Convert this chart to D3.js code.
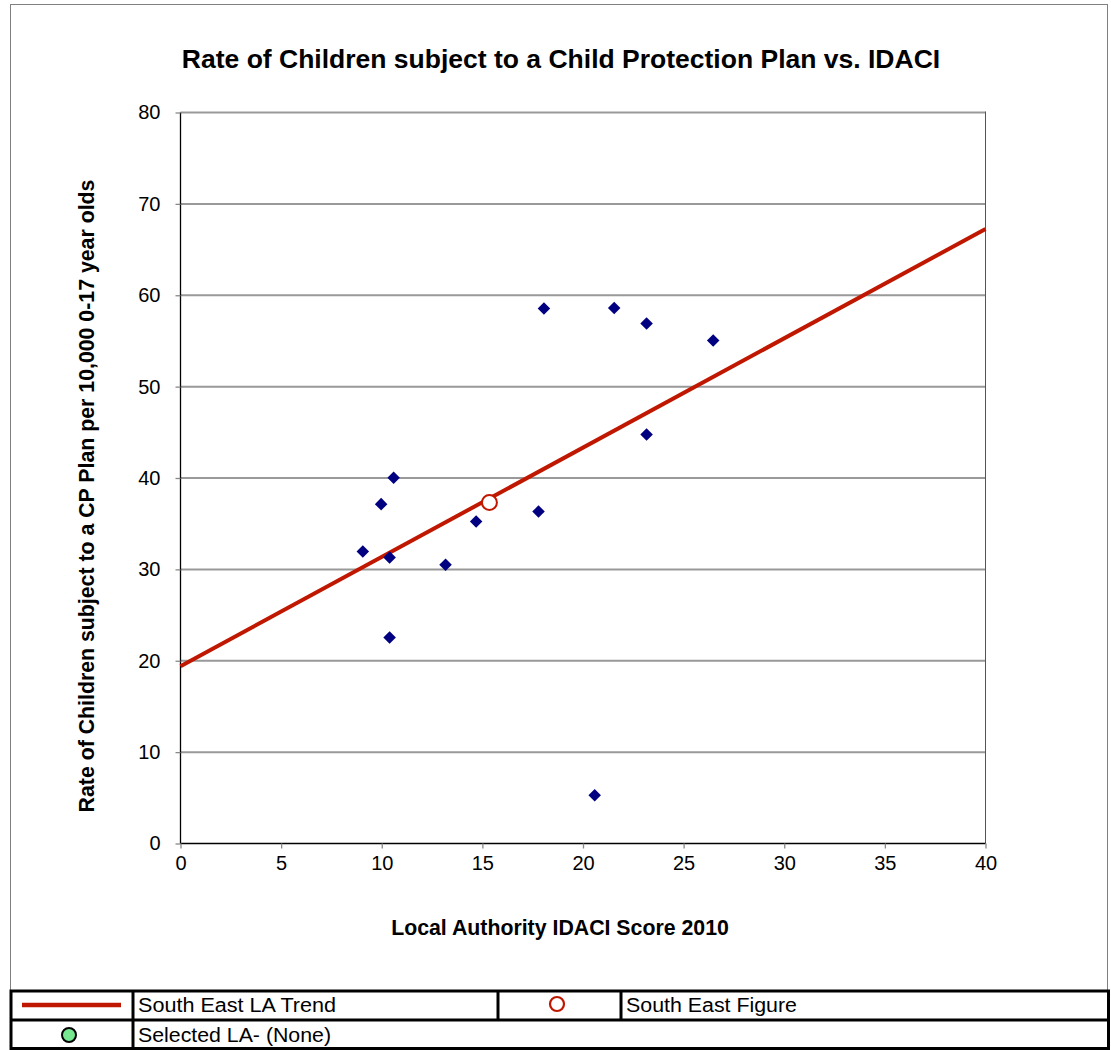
<!DOCTYPE html>
<html>
<head>
<meta charset="utf-8">
<script src="https://cdn.jsdelivr.net/npm/d3@7"></script>
<style>
  body { margin: 0; background: #fff; }
  svg { display: block; font-family: "Liberation Sans", Arial, sans-serif; }
</style>
</head>
<body>
<svg id="chart" width="1111" height="1050"></svg>
<script>
// ---- Data ----
const laIdaci = [18.06, 21.55, 23.16, 26.47, 23.16, 10.59, 9.97, 9.06, 10.39, 13.17, 14.69, 17.79, 10.39, 20.58];
const laRate  = [58.55, 58.6, 56.9, 55.05, 44.76, 40.02, 37.14, 31.96, 31.3, 30.5, 35.24, 36.33, 22.54, 5.29];
const seFigure = [15.35, 37.32];          // [IDACI, rate]
const trendX = [0, 40];
const trendY = [19.4, 67.25];
const xTicks = [0, 5, 10, 15, 20, 25, 30, 35, 40];
const yTicks = [0, 10, 20, 30, 40, 50, 60, 70, 80];
const titleText = "Rate of Children subject to a Child Protection Plan vs. IDACI";
const xTitle = "Local Authority IDACI Score 2010";
const yTitle = "Rate of Children subject to a CP Plan per 10,000 0-17 year olds";
const legendLabels = ["South East LA Trend", "South East Figure", "Selected LA- (None)"];

// ---- Layout ----
const svg = d3.select("#chart");
const L = 180.5, R = 985.5, T = 112.5, B = 843.5;
const x = d3.scaleLinear().domain([0, 40]).range([L, R]);
const y = d3.scaleLinear().domain([0, 80]).range([B, T]);

// outer frame
svg.append("rect").attr("x", 10.5).attr("y", 4.5).attr("width", 1097).attr("height", 987)
  .attr("fill", "#fff").attr("stroke", "#808080").attr("stroke-width", 1);

// title
svg.append("text").attr("x", 561).attr("y", 68).attr("text-anchor", "middle")
  .attr("font-size", 26.5).attr("font-weight", "bold").text(titleText);

// gridlines
svg.append("g").selectAll("line").data(yTicks.filter(d => d > 0)).join("line")
  .attr("x1", L).attr("x2", R).attr("y1", d => y(d)).attr("y2", d => y(d))
  .attr("stroke", "#999").attr("stroke-width", 2);

// right border of plot area
svg.append("line").attr("x1", R).attr("x2", R).attr("y1", T - 1).attr("y2", B)
  .attr("stroke", "#555").attr("stroke-width", 1);

// axes
const xAxis = d3.axisBottom(x).tickValues(xTicks).tickSize(5).tickPadding(7).tickFormat(d3.format("d"));
const yAxis = d3.axisLeft(y).tickValues(yTicks).tickSize(5).tickPadding(15).tickFormat(d3.format("d"));
const gx = svg.append("g").attr("transform", `translate(0,${B})`).call(xAxis);
const gy = svg.append("g").attr("transform", `translate(${L},0)`).call(yAxis);
[gx, gy].forEach(g => {
  g.select(".domain").attr("stroke", "#000").attr("stroke-width", 1.3);
  g.selectAll(".tick line").attr("stroke", "#888").attr("stroke-width", 1.3);
  g.selectAll(".tick text").attr("font-size", 20).attr("fill", "#000")
    .attr("font-family", "'Liberation Sans', Arial, sans-serif");
});
gx.select(".domain").attr("d", `M${L},0H${R}`);
gy.select(".domain").attr("d", `M0,${T}V${B}`);

// axis titles
svg.append("text").attr("x", 560).attr("y", 935).attr("text-anchor", "middle")
  .attr("font-size", 21.3).attr("font-weight", "bold").text(xTitle);
svg.append("text").attr("transform", `translate(94,496) rotate(-90)`)
  .attr("text-anchor", "middle").attr("font-size", 21.3).attr("font-weight", "bold").text(yTitle);

// trend line
const trendData = trendX.map((d, i) => [d, trendY[i]]);
svg.append("path").datum(trendData)
  .attr("d", d3.line().x(d => x(d[0])).y(d => y(d[1])))
  .attr("stroke", "#C01800").attr("stroke-width", 4).attr("fill", "none");

// LA points
const pts = laIdaci.map((d, i) => [d, laRate[i]]);
const diamond = d3.symbol().type(d3.symbolDiamond2).size(100);
svg.append("g").selectAll("path").data(pts).join("path")
  .attr("transform", d => `translate(${x(d[0])},${y(d[1])})`)
  .attr("d", diamond).attr("fill", "#000080");

// SE figure
svg.append("circle").attr("cx", x(seFigure[0])).attr("cy", y(seFigure[1])).attr("r", 7.5)
  .attr("fill", "#fff").attr("stroke", "#C01800").attr("stroke-width", 2);

// ---- Legend table ----
const lg = svg.append("g");
const lTop = 991, lMid = 1020, lBot = 1048.5, lLft = 11, lRgt = 1108.5;
lg.append("rect").attr("x", lLft).attr("y", lTop).attr("width", lRgt - lLft).attr("height", lBot - lTop)
  .attr("fill", "#fff").attr("stroke", "#000").attr("stroke-width", 3);
lg.append("line").attr("x1", lLft).attr("x2", lRgt).attr("y1", lMid).attr("y2", lMid).attr("stroke", "#000").attr("stroke-width", 3);
lg.append("line").attr("x1", 133).attr("x2", 133).attr("y1", lTop).attr("y2", lBot).attr("stroke", "#000").attr("stroke-width", 3);
lg.append("line").attr("x1", 498).attr("x2", 498).attr("y1", lTop).attr("y2", lMid).attr("stroke", "#000").attr("stroke-width", 3);
lg.append("line").attr("x1", 621).attr("x2", 621).attr("y1", lTop).attr("y2", lMid).attr("stroke", "#000").attr("stroke-width", 3);

lg.append("line").attr("x1", 22).attr("x2", 121).attr("y1", 1005).attr("y2", 1005)
  .attr("stroke", "#C01800").attr("stroke-width", 4.5);
lg.append("circle").attr("cx", 557).attr("cy", 1004).attr("r", 7)
  .attr("fill", "#fff").attr("stroke", "#C01800").attr("stroke-width", 2.2);
lg.append("circle").attr("cx", 69).attr("cy", 1035).attr("r", 7)
  .attr("fill", "#77E890").attr("stroke", "#000").attr("stroke-width", 2);

const lfs = 20;
lg.append("text").attr("x", 138).attr("y", 1012).attr("font-size", lfs).attr("textLength", 198).attr("lengthAdjust", "spacingAndGlyphs").text(legendLabels[0]);
lg.append("text").attr("x", 626).attr("y", 1012).attr("font-size", lfs).attr("textLength", 171).attr("lengthAdjust", "spacingAndGlyphs").text(legendLabels[1]);
lg.append("text").attr("x", 138).attr("y", 1042).attr("font-size", lfs).attr("textLength", 193).attr("lengthAdjust", "spacingAndGlyphs").text(legendLabels[2]);
</script>
</body>
</html>
